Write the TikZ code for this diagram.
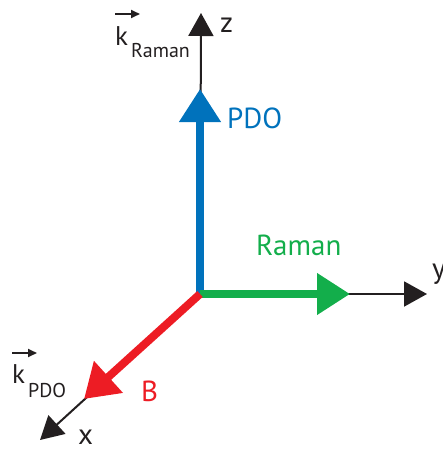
\documentclass[tikz,border=0pt]{standalone}
\usepackage{fontspec}
\setmainfont{PT Sans}
\usetikzlibrary{arrows.meta}
\definecolor{cblue}{RGB}{0,114,188}
\definecolor{cgreen}{RGB}{19,174,75}
\definecolor{cred}{RGB}{237,28,36}
\definecolor{cblack}{RGB}{35,31,32}
\begin{document}
\begin{tikzpicture}[x=1pt,y=-1pt,
  axis/.style={line width=2pt, draw=cblack, -{Triangle[length=23pt,width=25pt]}},
  fatarrow/.style={line width=7.5pt, -{Triangle[length=33pt,width=40pt]}},
  lab/.style={inner sep=0pt, anchor=base west, font=\fontsize{29}{32}\selectfont},
  klab/.style={inner sep=0pt, anchor=base west, text=cblack, font=\fontsize{27}{30}\selectfont},
  sublab/.style={inner sep=0pt, anchor=base west, text=cblack, font=\fontsize{20}{22}\selectfont},
  vecarrow/.style={line width=1.8pt, draw=cblack, -{Triangle[length=9pt,width=8pt]}}
  ]
\useasboundingbox (0,0) rectangle (443,450);
% points
\coordinate (O) at (200,294);
\coordinate (Ztip) at (201,13);
\coordinate (Ytip) at (427,294);
\coordinate (Xtip) at (40,440);
\coordinate (Btip) at (84,399);
\coordinate (Ptip) at (200,89);
\coordinate (Rtip) at (350,294);
% black axes
\draw[axis] (O) -- (Ztip);
\draw[axis] (O) -- (Ytip);
\draw[axis] (O) -- (Xtip);
% coloured vectors
\draw[fatarrow, draw=cblue, fill=cblue] (O) -- (Ptip);
\draw[fatarrow, draw=cgreen, fill=cgreen] (O) -- (Rtip);
\draw[fatarrow, draw=cred, fill=cred, line width=8pt, -{Triangle[length=33pt,width=41pt]}] (O) -- (Btip);
% axis labels
\node[lab, text=cblack] (zl) at (220,32) {z};
\node[lab, text=cblack] (yl) at (432,278) {y};
\node[lab, text=cblack] (xl) at (78,444) {x};
% vector labels
\node[lab, text=cblue] (pdo) at (227,128) {PDO};
\node[lab, text=cgreen] (raman) at (256,255) {Raman};
\node[lab, text=cred] (bl) at (141,401) {B};
% k vectors
\node[klab] (kR) at (115,45) {k};
\node[sublab] (kRs) at (131,57) {Raman};
\coordinate (kRa) at (115,14);
\draw[vecarrow] (kRa) -- ++(25,0);
\node[klab] (kP) at (12,383) {k};
\node[sublab] (kPs) at (28,397) {PDO};
\coordinate (kPa) at (12,353);
\draw[vecarrow] (kPa) -- ++(25,0);
\end{tikzpicture}
\end{document}
